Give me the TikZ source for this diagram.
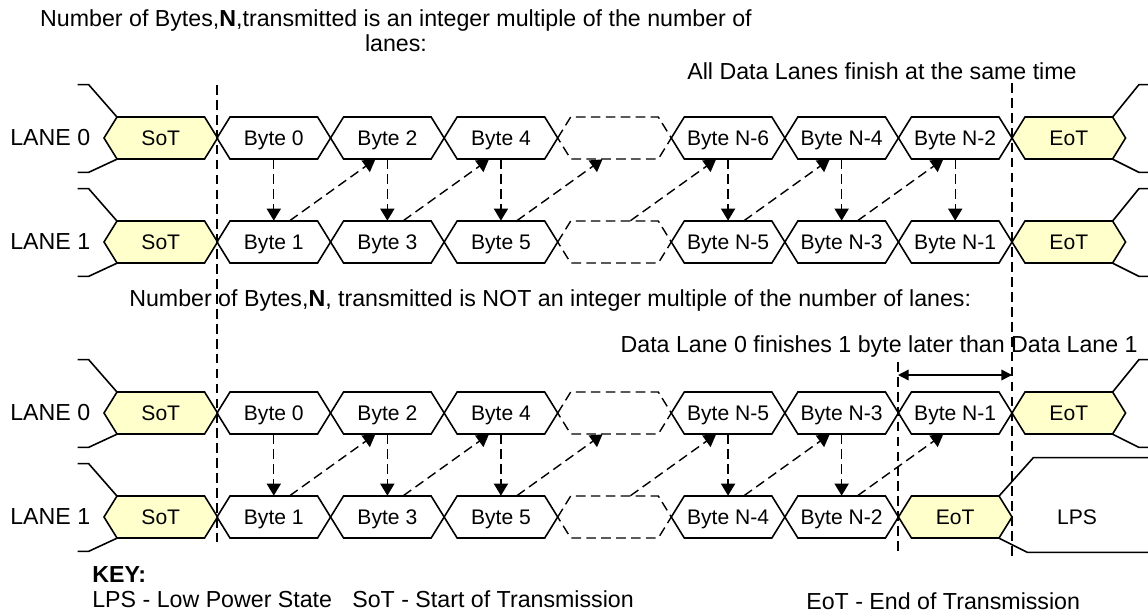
\documentclass[tikz,border=0pt]{standalone}
\usepackage{fontspec}
\setmainfont{Liberation Sans}
\definecolor{sotyellow}{RGB}{255, 255, 204}
\usetikzlibrary{arrows.meta, calc}

% one lane cell: style, name, left x, centre y, text
\newcommand{\hexcell}[5]{%
  \draw[#1] (#3,#4) -- ++(13,-21) -- ++(87.57,0) -- ++(13,21) -- ++(-13,21) -- ++(-87.57,0) -- cycle;
  \node[celltext] (#2) at ({#3+56.785},#4) {#5};
}

\tikzset{
  wave/.style={line width=0.9pt, line join=miter},
  sotcell/.style={wave, fill=sotyellow},
  gapcell/.style={line width=0.8pt, dash pattern=on 5.5pt off 3pt},
  celltext/.style={minimum width=2.2714cm, minimum height=0.84cm, inner sep=0pt, text depth=0pt, font=\fontsize{12}{14}\selectfont},
  lanetext/.style={anchor=west, inner sep=0pt, font=\fontsize{13.2}{15}\selectfont},
  titletext/.style={inner sep=0pt, font=\fontsize{13.2}{14.2}\selectfont},
  marker/.style={line width=0.8pt, dash pattern=on 5.5pt off 3pt},
  flow/.style={line width=0.8pt, dash pattern=on 5.5pt off 3pt, -{Triangle[length=6.8pt, width=8pt]}},
}

\begin{document}
\begin{tikzpicture}[x=0.02cm, y=-0.02cm]
  \useasboundingbox (0,0) rectangle (1148,615);

  % titles
  \node[titletext, anchor=north, align=center] (title1) at (396,9.5)
    {Number of Bytes,\textbf{N},transmitted is an integer multiple of the number of\\lanes:};
  \node[titletext, anchor=base east] (note1) at (1077,80) {All Data Lanes finish at the same time};
  \node[titletext, anchor=base west] (title2) at (129,306)
    {Number of Bytes,\textbf{N}, transmitted is NOT an integer multiple of the number of lanes:};
  \node[titletext, anchor=base east] (note2) at (1138,352) {Data Lane 0 finishes 1 byte later than Data Lane 1};

  % lane names
  \node[lanetext] (tl0) at (10,138) {LANE 0};
  \node[lanetext] (tl1) at (10,242) {LANE 1};
  \node[lanetext] (bl0) at (10,413) {LANE 0};
  \node[lanetext] (bl1) at (10,517) {LANE 1};

  % top: N is a multiple of the lanes
  \hexcell{sotcell}{tas}{104}{138}{SoT}
  \hexcell{sotcell}{tbs}{104}{242}{SoT}
  \foreach \i/\txt in {0/Byte 0,1/Byte 2,2/Byte 4,4/Byte N-6,5/Byte N-4,6/Byte N-2}
    {\hexcell{wave}{ta\i}{217+113.57*\i}{138}{\txt}}
  \foreach \i/\txt in {0/Byte 1,1/Byte 3,2/Byte 5,4/Byte N-5,5/Byte N-3,6/Byte N-1}
    {\hexcell{wave}{tb\i}{217+113.57*\i}{242}{\txt}}
  \hexcell{gapcell}{ta3}{557.71}{138}{}
  \hexcell{gapcell}{tb3}{557.71}{242}{}
  \hexcell{sotcell}{tae}{1012}{138}{EoT}
  \hexcell{sotcell}{tbe}{1012}{242}{EoT}

  % bottom: N is not a multiple of the lanes
  \hexcell{sotcell}{bas}{104}{413}{SoT}
  \hexcell{sotcell}{bbs}{104}{517}{SoT}
  \foreach \i/\txt in {0/Byte 0,1/Byte 2,2/Byte 4,4/Byte N-5,5/Byte N-3,6/Byte N-1}
    {\hexcell{wave}{ba\i}{217+113.57*\i}{413}{\txt}}
  \foreach \i/\txt in {0/Byte 1,1/Byte 3,2/Byte 5,4/Byte N-4,5/Byte N-2}
    {\hexcell{wave}{bb\i}{217+113.57*\i}{517}{\txt}}
  \hexcell{gapcell}{ba3}{557.71}{413}{}
  \hexcell{gapcell}{bb3}{557.71}{517}{}
  \hexcell{sotcell}{bae}{1012}{413}{EoT}
  \hexcell{sotcell}{bbe}{898.43}{517}{EoT}

  % stop state lines before SoT and after EoT
  \foreach \n in {tas,tbs,bas,bbs} {
    \draw[wave] ([xshift=0.26cm]\n.north west) -- ++(-28,-32) -- ++(-11,0);
    \draw[wave] ([xshift=0.26cm]\n.south west) -- ++(-28,13) -- ++(-11,0);
  }
  \foreach \n in {tae,tbe,bae} {
    \draw[wave] ([xshift=-0.26cm]\n.north east) -- ++(26,-32) -- ++(10,0);
    \draw[wave] ([xshift=-0.26cm]\n.south east) -- ++(26,13) -- ++(10,0);
  }
  \draw[wave] ([xshift=-0.26cm]bbe.north east) -- ++(34,-38) -- ++(115,0);
  \draw[wave] ([xshift=-0.26cm]bbe.south east) -- ++(28,14) -- ++(121,0);
  \node[celltext, minimum width=0pt] (lps) at (1077,517) {LPS};

  % byte order
  \foreach \i in {0,1,2,4,5,6}
    {\draw[flow] (ta\i.south) -- (tb\i.north);}
  \foreach \i [evaluate=\i as \j using int(\i+1)] in {0,...,5}
    {\draw[flow] ([xshift=0.32cm]tb\i.north) -- ([xshift=-0.24cm]ta\j.south);}
  \foreach \i in {0,1,2,4,5}
    {\draw[flow] (ba\i.south) -- (bb\i.north);}
  \foreach \i [evaluate=\i as \j using int(\i+1)] in {0,...,5}
    {\draw[flow] ([xshift=0.32cm]bb\i.north) -- ([xshift=-0.24cm]ba\j.south);}

  % timing marks
  \draw[marker] (217,85) -- (217,542);
  \draw[marker] (1012,83) -- (1012,557);
  \draw[marker] (898,362) -- (898,553);
  \coordinate (lagl) at (898,375);
  \coordinate (lagr) at (1012,375);
  \draw[line width=0.8pt, {Triangle[length=6pt, width=6pt]}-{Triangle[length=6pt, width=6pt]}] (lagl) -- (lagr);

  % key
  \node[titletext, anchor=base west, font=\fontsize{13.2}{15}\selectfont\bfseries] (key) at (92,582) {KEY:};
  \node[titletext, anchor=base west] (key1) at (92,607) {LPS - Low Power State};
  \node[titletext, anchor=base west] (key2) at (352,607) {SoT - Start of Transmission};
  \node[titletext, anchor=base west] (key3) at (806,609) {EoT - End of Transmission};
\end{tikzpicture}
\end{document}
